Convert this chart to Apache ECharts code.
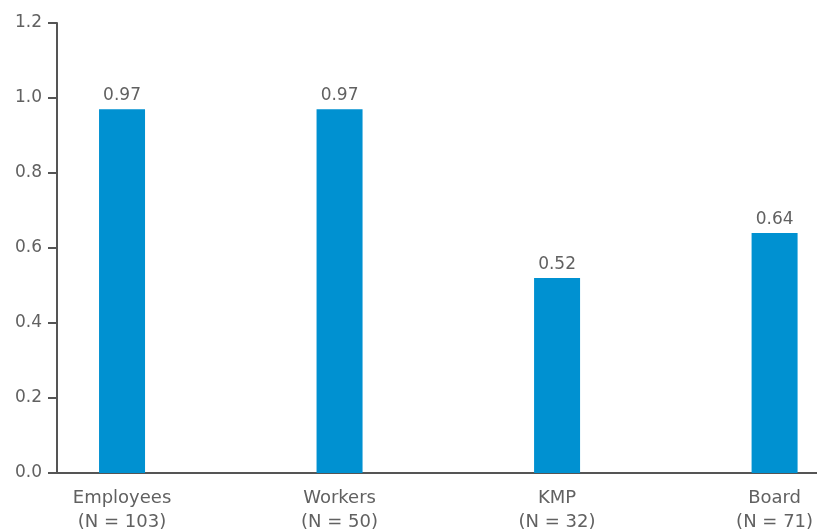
<!DOCTYPE html>
<html>
<head>
<meta charset="utf-8">
<script src="https://cdn.jsdelivr.net/npm/echarts@6/dist/echarts.min.js"></script>
<style>html,body{margin:0;padding:0;background:#fff}#c{width:817px;height:531px}</style>
</head>
<body>
<div id="c"></div>
<script>
var categories = ['Employees\n(N = 103)', 'Workers\n(N = 50)', 'KMP\n(N = 32)', 'Board\n(N = 71)'];
var values = [0.97, 0.97, 0.52, 0.64];
var yTicks = [0, 0.2, 0.4, 0.6, 0.8, 1.0, 1.2];

var chart = echarts.init(document.getElementById('c'), null, {renderer: 'canvas'});
var axisColor = '#555555';
var textColor = '#616161';
var font = 'DejaVu Sans';
chart.setOption({
  animation: false,
  grid: {left: 57, right: 0, top: 23, bottom: 58, outerBoundsMode: 'none', containLabel: false},
  xAxis: {
    type: 'value',
    min: -0.299,
    max: 3.195,
    splitLine: {show: false},
    axisLine: {show: true, onZero: false, lineStyle: {color: axisColor, width: 2}},
    axisTick: {show: false},
    axisLabel: {
      customValues: [0, 1, 2, 3],
      formatter: function (v) { return categories[Math.round(v)] || ''; },
      color: textColor, fontSize: 18, fontFamily: font, lineHeight: 24, margin: 13
    }
  },
  yAxis: {
    type: 'value',
    min: 0, max: 1.2, interval: 0.2,
    splitLine: {show: false},
    axisLine: {show: true, onZero: false, lineStyle: {color: axisColor, width: 2}},
    axisTick: {show: true, customValues: yTicks, length: 9, lineStyle: {color: axisColor, width: 2}},
    axisLabel: {
      customValues: yTicks,
      formatter: function (v) { return v.toFixed(1); },
      color: textColor, fontSize: 17, fontFamily: font, margin: 15
    }
  },
  series: [{
    type: 'bar',
    barWidth: 46,
    data: values.map(function (v, i) { return [i, v]; }),
    itemStyle: {color: '#0091d1'},
    label: {
      show: true, position: 'top', distance: 5,
      formatter: function (p) { return p.value[1].toFixed(2); },
      color: textColor, fontSize: 17, fontFamily: font
    }
  }]
});
</script>
</body>
</html>
